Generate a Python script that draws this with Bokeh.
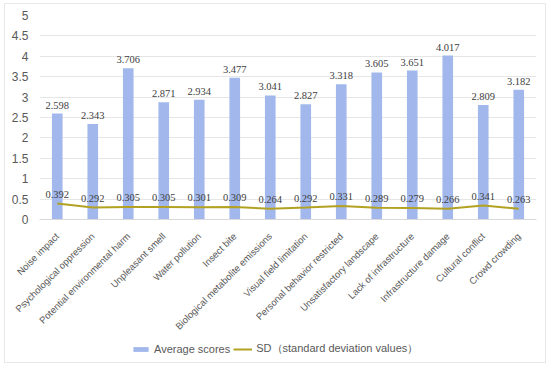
import math
from bokeh.plotting import figure
from bokeh.layouts import column
from bokeh.models import ColumnDataSource, LabelSet, Legend, LegendItem, FixedTicker, Range1d
from bokeh.embed import file_html
from bokeh.resources import INLINE

categories = ["Noise impact", "Psychological oppression", "Potential environmental harm",
              "Unpleasant smell", "Water pollution", "Insect bite",
              "Biological metabolite emissions", "Visual field limitation",
              "Personal behavior restricted", "Unsatisfactory landscape",
              "Lack of infrastructure", "Infrastructure damage", "Cultural conflict",
              "Crowd crowding"]
avg_scores = [2.598, 2.343, 3.706, 2.871, 2.934, 3.477, 3.041, 2.827, 3.318, 3.605, 3.651, 4.017, 2.809, 3.182]
sd_values = [0.392, 0.292, 0.305, 0.305, 0.301, 0.309, 0.264, 0.292, 0.331, 0.289, 0.279, 0.266, 0.341, 0.263]
y_ticks = [0, 0.5, 1, 1.5, 2, 2.5, 3, 3.5, 4, 4.5, 5]

BAR_COLOR = "#a2b8ec"
LINE_COLOR = "#b3a222"
FONT = "Liberation Sans"

src = ColumnDataSource(dict(
    cat=categories, avg=avg_scores, sd=sd_values,
    avg_txt=[f"{v:.3f}" for v in avg_scores],
    sd_txt=[f"{v:.3f}" for v in sd_values],
))

p = figure(x_range=categories, y_range=Range1d(0, 5), width=540, height=334,
           output_backend="svg", toolbar_location=None,
           min_border_left=34, min_border_right=9, min_border_top=11, min_border_bottom=111)
p.outline_line_color = None
p.background_fill_color = "white"
p.border_fill_color = "white"

p.vbar(x="cat", top="avg", width=0.3, source=src, fill_color=BAR_COLOR, line_color=None)
p.line(x="cat", y="sd", source=src, line_color=LINE_COLOR, line_width=2)

p.add_layout(LabelSet(x="cat", y="avg", text="avg_txt", source=src, text_align="center",
                      text_baseline="bottom", y_offset=5, text_font_size="10.5px",
                      text_color="#404040", text_font=FONT))
p.add_layout(LabelSet(x="cat", y="sd", text="sd_txt", source=src, text_align="center",
                      text_baseline="bottom", y_offset=6, text_font_size="10.5px",
                      text_color="#404040", text_font=FONT))

p.yaxis.ticker = FixedTicker(ticks=y_ticks)
p.yaxis.axis_line_color = None
p.yaxis.major_tick_line_color = None
p.yaxis.minor_tick_line_color = None
p.yaxis.major_label_text_font_size = "12px"
p.yaxis.major_label_text_color = "#595959"
p.yaxis.major_label_text_font = FONT

p.xaxis.axis_line_color = "#d9d9d9"
p.xaxis.major_tick_line_color = None
p.xaxis.minor_tick_line_color = None
p.xaxis.major_label_orientation = math.pi / 4
p.xaxis.major_label_text_font_size = "9.5px"
p.xaxis.major_label_text_color = "#595959"
p.xaxis.major_label_text_font = FONT
p.xaxis.major_label_standoff = 9

p.xgrid.grid_line_color = None
p.ygrid.grid_line_color = "#e6e6e6"
p.ygrid.ticker = FixedTicker(ticks=y_ticks)

# legend strip
lf = figure(width=540, height=24, output_backend="svg", toolbar_location=None,
            x_range=Range1d(0, 1), y_range=Range1d(0, 1),
            min_border_left=0, min_border_right=0, min_border_top=0, min_border_bottom=0)
lf.axis.visible = False
lf.grid.visible = False
lf.outline_line_color = None
dummy = ColumnDataSource(dict(x=[-5, -4], y=[-5, -4], top=[-5, -4]))
rb = lf.vbar(x="x", top="top", width=0.1, source=dummy, fill_color=BAR_COLOR, line_color=None)
rl = lf.line(x="x", y="y", source=dummy, line_color=LINE_COLOR, line_width=2)
legend = Legend(items=[LegendItem(label="Average scores", renderers=[rb]),
                       LegendItem(label="SD（standard deviation values）", renderers=[rl])],
                orientation="horizontal", location=(92, 6),
                label_text_font_size="11px", label_text_color="#595959", label_text_font=FONT,
                border_line_color=None, background_fill_alpha=0,
                glyph_width=19, glyph_height=6, spacing=3, label_standoff=4,
                margin=0, padding=4)
lf.add_layout(legend, "center")

layout = column(p, lf, spacing=0)
layout.styles = {"margin-left": "4px", "margin-top": "3px", "border": "1px solid #e8e8e8"}
open("out.html", "w").write(file_html(layout, INLINE))
